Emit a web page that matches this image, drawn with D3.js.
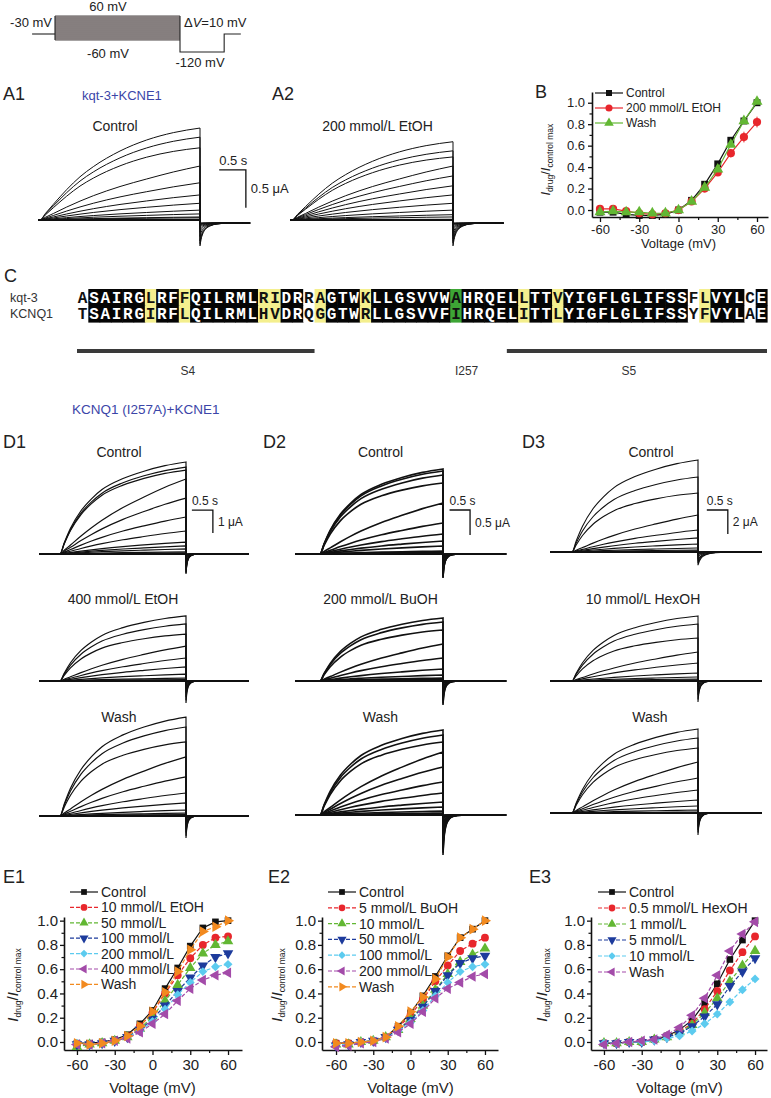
<!DOCTYPE html>
<html>
<head>
<meta charset="utf-8">
<script src="https://cdn.jsdelivr.net/npm/d3@7/dist/d3.min.js"></script>
<style>
  body { margin: 0; background: #fff; }
  svg { display: block; font-family: "Liberation Sans", Arial, sans-serif; }
</style>
</head>
<body>
<svg id="fig" width="771" height="1098"></svg>
<script>
// ---------------- data ----------------
const stepVoltages = [-60, -50, -40, -30, -20, -10, 0, 10, 20, 30, 40, 50, 60];
const holdV = -30, tailV = -120;
const protoTimes = { pre: -0.55, stepEnd: 3, tailEnd: 4.06, end: 4.46 };

// normalised activation time course (s)
const actT    = [0, 0.1, 0.25, 0.5, 0.75, 1, 1.5, 2, 2.5, 3];
const actFast = [0, 0.12, 0.28, 0.47, 0.6, 0.7, 0.82, 0.9, 0.96, 1];
const actMid  = [0, 0.07, 0.17, 0.33, 0.47, 0.58, 0.75, 0.87, 0.95, 1];
const actSlow = [0, 0.05, 0.12, 0.24, 0.35, 0.45, 0.62, 0.76, 0.89, 1];
const tailT     = [0, 0.02, 0.05, 0.1, 0.2, 0.3, 0.5, 0.8];
const tailShape = [1, 0.72, 0.48, 0.28, 0.12, 0.05, 0.01, 0];

// current at the end of each 3 s pulse (uA), largest sweep first
const ampA1  = [1.21, 1.09, 0.95, 0.71, 0.49, 0.33, 0.22, 0.13, 0.08, 0.04, 0.03, 0.01, 0];
const ampA2  = [1.03, 0.91, 0.83, 0.71, 0.58, 0.45, 0.33, 0.22, 0.13, 0.07, 0.04, 0.01, 0];
const ampD1c = [4.0, 3.78, 3.65, 3.26, 2.43, 1.61, 1.0, 0.52, 0.35, 0.22, 0.09, 0.04, 0];
const ampD1e = [2.83, 2.48, 2.04, 1.52, 1.0, 0.61, 0.3, 0.13, 0.06, 0.04, 0.02, 0.01, 0];
const ampD1w = [4.3, 3.87, 3.22, 2.57, 1.7, 1.0, 0.57, 0.26, 0.13, 0.06, 0.04, 0.01, 0];
const ampD2c = [1.7, 1.66, 1.58, 1.42, 1.02, 0.62, 0.4, 0.26, 0.16, 0.06, 0.04, 0.02, 0];
const ampD2b = [1.26, 1.18, 1.02, 0.74, 0.46, 0.24, 0.12, 0.06, 0.04, 0.02, 0.01, 0, 0];
const ampD2w = [1.7, 1.6, 1.46, 1.26, 0.96, 0.66, 0.44, 0.26, 0.16, 0.08, 0.04, 0.02, 0];
const ampD3c = [7.67, 6.25, 4.92, 3.08, 1.83, 1.17, 0.67, 0.33, 0.17, 0.08, 0.04, 0.02, 0];
const ampD3h = [5.42, 4.75, 3.58, 2.42, 1.5, 0.67, 0.33, 0.17, 0.08, 0.04, 0.02, 0.01, 0];
const ampD3w = [7.0, 6.25, 5.42, 4.25, 2.92, 1.92, 1.08, 0.58, 0.25, 0.08, 0.04, 0.02, 0];

// sequence alignment
const seqKqt3  = "ASAIRGLRFFQILRMLRIDRRAGTWKLLGSVVWAHRQELLTTVYIGFLGLIFSSFLVYLCE";
const seqKcnq1 = "TSAIRGIRFLQILRMLHVDRQGGTWRLLGSVVFIHRQELITTLYIGFLGLIFSSYFVYLAE";
const yellowCols = [7, 10, 17, 18, 22, 26, 40, 43, 56];
const whiteCols  = [1, 21, 55, 60];
const greenCols  = [34];
const segments   = [{ name: "S4", from: 1, to: 21 }, { name: "S5", from: 39, to: 61 }];

// I-V data (normalised current)
const bNames = ["Control", "200 mmol/L EtOH", "Wash"];
const bControl = [-0.02, -0.02, -0.04, -0.05, -0.05, -0.04, 0, 0.09, 0.24, 0.43, 0.65, 0.83, 1.0];
const bEtOH    = [0.01, 0.01, -0.01, -0.03, -0.04, -0.03, 0, 0.08, 0.2, 0.35, 0.53, 0.68, 0.82];
const bWash    = [-0.02, -0.01, -0.02, -0.02, -0.03, -0.03, 0, 0.08, 0.21, 0.38, 0.61, 0.83, 1.01];
const bEtOHErr = [0.01, 0.01, 0.01, 0.01, 0.01, 0.01, 0, 0.01, 0.02, 0.03, 0.04, 0.05, 0.05];

const e1Names = ["Control", "10 mmol/L EtOH", "50 mmol/L", "100 mmol/L", "200 mmol/L", "400 mmol/L", "Wash"];
const e1Control = [-0.01, -0.01, 0.0, 0.02, 0.06, 0.15, 0.26, 0.44, 0.61, 0.79, 0.94, 0.99, 1.0];
const e1Et10    = [-0.02, -0.02, -0.01, 0.01, 0.05, 0.13, 0.24, 0.40, 0.55, 0.69, 0.80, 0.86, 0.87];
const e1Et50    = [-0.04, -0.02, -0.01, 0.01, 0.04, 0.11, 0.21, 0.34, 0.47, 0.61, 0.73, 0.80, 0.83];
const e1Et100   = [-0.02, -0.02, -0.01, 0.01, 0.04, 0.10, 0.19, 0.30, 0.42, 0.53, 0.63, 0.70, 0.73];
const e1Et200   = [-0.01, -0.02, -0.01, 0.01, 0.04, 0.09, 0.17, 0.27, 0.39, 0.49, 0.58, 0.62, 0.64];
const e1Et400   = [-0.02, -0.02, -0.01, 0.01, 0.03, 0.08, 0.15, 0.23, 0.34, 0.44, 0.51, 0.55, 0.57];
const e1Wash    = [-0.01, -0.02, -0.01, 0.01, 0.05, 0.13, 0.25, 0.41, 0.58, 0.76, 0.91, 0.95, 1.0];

const e2Names = ["Control", "5 mmol/L BuOH", "10 mmol/L", "50 mmol/L", "100 mmol/L", "200 mmol/L", "Wash"];
const e2Control = [-0.01, -0.01, 0.0, 0.01, 0.04, 0.13, 0.24, 0.38, 0.54, 0.71, 0.86, 0.93, 1.0];
const e2Bu5     = [-0.01, -0.01, 0.0, 0.01, 0.04, 0.12, 0.22, 0.35, 0.50, 0.63, 0.75, 0.81, 0.86];
const e2Bu10    = [-0.02, -0.02, 0.0, 0.01, 0.04, 0.10, 0.19, 0.30, 0.43, 0.56, 0.66, 0.72, 0.77];
const e2Bu50    = [-0.03, -0.02, 0.0, 0.01, 0.04, 0.10, 0.18, 0.29, 0.42, 0.55, 0.65, 0.69, 0.71];
const e2Bu100   = [-0.02, -0.02, 0.0, 0.01, 0.03, 0.09, 0.16, 0.26, 0.38, 0.49, 0.58, 0.62, 0.64];
const e2Bu200   = [-0.04, -0.03, -0.01, 0.0, 0.03, 0.08, 0.15, 0.25, 0.36, 0.44, 0.49, 0.54, 0.56];
const e2Wash    = [-0.01, -0.01, 0.0, 0.01, 0.04, 0.13, 0.25, 0.37, 0.52, 0.70, 0.86, 0.93, 1.0];

const e3Names = ["Control", "0.5 mmol/L HexOH", "1 mmol/L", "5 mmol/L", "10 mmol/L", "Wash"];
const e3Control = [-0.01, -0.01, 0.0, 0.0, 0.02, 0.05, 0.10, 0.18, 0.32, 0.48, 0.68, 0.84, 1.0];
const e3Hex05   = [-0.01, -0.01, 0.0, 0.0, 0.02, 0.04, 0.09, 0.15, 0.27, 0.42, 0.59, 0.74, 0.87];
const e3Hex1    = [-0.01, -0.01, 0.0, 0.0, 0.02, 0.04, 0.08, 0.14, 0.24, 0.36, 0.50, 0.63, 0.75];
const e3Hex5    = [-0.01, -0.01, 0.0, 0.0, 0.02, 0.04, 0.07, 0.13, 0.21, 0.31, 0.46, 0.58, 0.69];
const e3Hex10   = [-0.01, -0.01, 0.0, 0.0, 0.01, 0.03, 0.05, 0.09, 0.15, 0.23, 0.33, 0.43, 0.52];
const e3Wash    = [-0.02, -0.01, 0.0, 0.01, 0.02, 0.06, 0.12, 0.22, 0.36, 0.55, 0.75, 0.89, 0.99];

const xTicks = [-60, -30, 0, 30, 60];
const xMinor = [-45, -15, 15, 45];
const yTicks = [0, 0.2, 0.4, 0.6, 0.8, 1.0];
const yMinor = [0.1, 0.3, 0.5, 0.7, 0.9];

// ---------------- drawing ----------------
const FONT = '"Liberation Sans", Arial, sans-serif';
const svg = d3.select("#fig");
const colors = ["#111111", "#e8262c", "#62b733", "#1d3b9c", "#5ccbef", "#a34ba9", "#f28a1f"];
const markers = [
  { type: d3.symbolSquare, rot: 0, k: 1 },
  { type: d3.symbolCircle, rot: 0, k: 1.1 },
  { type: d3.symbolTriangle, rot: 0, k: 1.1 },
  { type: d3.symbolTriangle, rot: 180, k: 1.1 },
  { type: d3.symbolSquare, rot: 45, k: 0.9 },
  { type: d3.symbolTriangle, rot: -90, k: 1.1 },
  { type: d3.symbolTriangle, rot: 90, k: 1.1 }
];

function label(x, y, s, size, opts = {}) {
  return svg.append("text")
    .attr("x", x).attr("y", y)
    .attr("text-anchor", opts.anchor || "start")
    .attr("fill", opts.fill || "#222")
    .style("font-size", size + "px")
    .style("font-style", opts.italic ? "italic" : null)
    .text(s);
}

// panel letters and headings
[["A1", 3, 100], ["A2", 272, 100], ["B", 535, 98], ["C", 4, 282],
 ["D1", 3, 448], ["D2", 263, 448], ["D3", 522, 448],
 ["E1", 3, 883], ["E2", 268, 883], ["E3", 529, 883]]
  .forEach(d => label(d[1], d[2], d[0], 18));
label(82, 100, "kqt-3+KCNE1", 13, { fill: "#3b45a8" });
label(72, 414, "KCNQ1 (I257A)+KCNE1", 13.5, { fill: "#3b45a8" });

// ---- voltage protocol ----
{
  const x = d3.scaleLinear().domain([0, protoTimes.stepEnd]).range([55, 180]);
  const v = d3.scaleLinear().domain([60, tailV]).range([16, 52]);
  const g = svg.append("g");
  g.append("rect")
    .attr("x", x(0)).attr("y", v(60))
    .attr("width", x(protoTimes.stepEnd) - x(0)).attr("height", v(-60) - v(60))
    .attr("fill", "#c4bcbc");
  g.selectAll("line").data(stepVoltages).join("line")
    .attr("x1", x(0)).attr("x2", x(protoTimes.stepEnd))
    .attr("y1", d => v(d)).attr("y2", d => v(d))
    .attr("stroke", "#3a3434").attr("stroke-width", 0.9);
  const line = d3.line().x(d => x(d[0])).y(d => v(d[1]));
  const paths = [
    [[protoTimes.pre, holdV], [0, holdV]],
    [[0, 60], [0, -60]],
    [[protoTimes.stepEnd, 60], [protoTimes.stepEnd, tailV], [protoTimes.tailEnd, tailV],
     [protoTimes.tailEnd, holdV], [protoTimes.end, holdV]]
  ];
  g.selectAll("path").data(paths).join("path")
    .attr("d", line).attr("fill", "none").attr("stroke", "#222").attr("stroke-width", 1.1);
  label(108, 11, "60 mV", 13, { anchor: "middle" });
  label(108, 58, "-60 mV", 13, { anchor: "middle" });
  label(52, 27, "-30 mV", 13, { anchor: "end" });
  label(200, 67, "-120 mV", 13, { anchor: "middle" });
  const dv = label(184, 27, "\u0394", 13);
  dv.append("tspan").style("font-style", "italic").text("V");
  dv.append("tspan").text("=10 mV");
}

// ---- current traces ----
function drawTraces(p) {
  const x = d3.scaleLinear().domain([0, 3]).range([p.xOn, p.xOff]);
  const y = d3.scaleLinear().domain([0, 1]).range([p.y0, p.y0 - p.pxUA]);
  const g = svg.append("g").attr("fill", "none").attr("stroke", "#111");
  const curve = d3.line().x(d => x(d[0])).y(d => y(d[1])).curve(d3.curveMonotoneX);
  const aMax = d3.max(p.amps);
  g.append("path")
    .attr("d", curve([[p.tL, 0], [3, 0]]))
    .attr("stroke-width", 1.8);
  p.amps.forEach((a, i) => {
    const shape = i < p.nTop ? p.top : actSlow;
    const on = [[p.tL, 0]].concat(actT.map((t, k) => [t, a * shape[k]]));
    const tl = tailT.map((t, k) => [3 + t * p.tailK, p.off - p.tail * (a / aMax) * tailShape[k]]);
    tl.push([p.tR, p.off]);
    g.append("path")
      .attr("d", curve(on) + curve(tl).replace(/^M/, "L"))
      .attr("stroke-width", p.sw);
  });
  label((p.xOn + p.xOff) / 2 + p.dx, p.ty, p.title, 14, { anchor: "middle" });
  if (p.bar) {
    const b = p.bar;
    g.append("path")
      .attr("d", d3.line()([[x(b.t - 0.5), y(b.i)], [x(b.t), y(b.i)], [x(b.t), y(b.i - b.di)]]))
      .attr("stroke-width", 1.3);
    label(x(b.t - 0.5), y(b.i) - 5, "0.5 s", b.fs);
    label(x(b.t) + 5, y(b.i - b.di / 2) + 4, b.text, b.fs);
  }
}

const tracePanels = [
  { amps: ampA1, xOn: 40, xOff: 200, tL: -0.03, tR: 3.94, y0: 220, pxUA: 76, top: actMid, nTop: 3,
    tail: 0.3, tailK: 1.0, off: -0.04, sw: 1, title: "Control", dx: -5, ty: 131,
    bar: { t: 3.86, i: 0.66, di: 0.5, text: "0.5 \u03bcA", fs: 13 } },
  { amps: ampA2, xOn: 292, xOff: 453, tL: -0.03, tR: 3.94, y0: 220, pxUA: 76, top: actMid, nTop: 3,
    tail: 0.3, tailK: 1.0, off: -0.04, sw: 1, title: "200 mmol/L EtOH", dx: 5, ty: 131 },
  { amps: ampD1c, xOn: 60, xOff: 186, tL: -0.5, tR: 4.5, y0: 554, pxUA: 23, top: actFast, nTop: 3,
    tail: 0.87, tailK: 0.5, off: 0, sw: 1.2, title: "Control", dx: -4, ty: 457,
    bar: { t: 3.64, i: 1.91, di: 1, text: "1 \u03bcA", fs: 12 } },
  { amps: ampD1e, xOn: 60, xOff: 186, tL: -0.5, tR: 4.5, y0: 681, pxUA: 23, top: actFast, nTop: 3,
    tail: 0.96, tailK: 0.5, off: 0, sw: 1.2, title: "400 mmol/L EtOH", dx: 0, ty: 604 },
  { amps: ampD1w, xOn: 60, xOff: 186, tL: -0.5, tR: 4.5, y0: 816, pxUA: 23, top: actFast, nTop: 3,
    tail: 0.96, tailK: 0.5, off: 0, sw: 1.2, title: "Wash", dx: -4, ty: 722 },
  { amps: ampD2c, xOn: 320, xOff: 443, tL: -0.61, tR: 4.54, y0: 554, pxUA: 50, top: actFast, nTop: 4,
    tail: 0.48, tailK: 0.6, off: 0, sw: 1.6, title: "Control", dx: -1, ty: 457,
    bar: { t: 3.66, i: 0.88, di: 0.5, text: "0.5 \u03bcA", fs: 12 } },
  { amps: ampD2b, xOn: 320, xOff: 443, tL: -0.61, tR: 4.54, y0: 681, pxUA: 50, top: actFast, nTop: 3,
    tail: 0.48, tailK: 0.6, off: 0, sw: 1.6, title: "200 mmol/L BuOH", dx: -1, ty: 604 },
  { amps: ampD2w, xOn: 320, xOff: 443, tL: -0.61, tR: 4.54, y0: 815, pxUA: 50, top: actFast, nTop: 3,
    tail: 0.8, tailK: 0.7, off: 0, sw: 1.6, title: "Wash", dx: -1, ty: 722 },
  { amps: ampD3c, xOn: 572, xOff: 698, tL: -0.52, tR: 4.52, y0: 552, pxUA: 12, top: actFast, nTop: 3,
    tail: 1.1, tailK: 1.4, off: 0, sw: 1.1, title: "Control", dx: 16, ty: 457,
    bar: { t: 3.71, i: 3.5, di: 2, text: "2 \u03bcA", fs: 12 } },
  { amps: ampD3h, xOn: 572, xOff: 698, tL: -0.52, tR: 4.52, y0: 681, pxUA: 12, top: actFast, nTop: 3,
    tail: 1.75, tailK: 0.6, off: 0, sw: 1.1, title: "10 mmol/L HexOH", dx: 8, ty: 604 },
  { amps: ampD3w, xOn: 572, xOff: 698, tL: -0.52, tR: 4.52, y0: 813, pxUA: 12, top: actFast, nTop: 3,
    tail: 1.83, tailK: 0.6, off: 0, sw: 1.1, title: "Wash", dx: 15, ty: 722 }
];
tracePanels.forEach(drawTraces);

// ---- sequence alignment ----
{
  const cols = d3.range(1, seqKqt3.length + 1);
  const col = d3.scaleBand().domain(cols).range([77, 767]);
  const rows = [{ name: "kqt-3", seq: seqKqt3 }, { name: "KCNQ1", seq: seqKcnq1 }];
  const row = d3.scaleBand().domain(rows.map(r => r.name)).range([289, 322]);
  const kind = c => greenCols.includes(c) ? "g" : yellowCols.includes(c) ? "y" : whiteCols.includes(c) ? "w" : "b";
  const fill = { g: "#3da535", y: "#f4ef8e", w: "#ffffff", b: "#050505" };
  const g = svg.append("g");
  rows.forEach(r => {
    g.append("g").selectAll("rect").data(cols).join("rect")
      .attr("x", c => col(c)).attr("y", row(r.name))
      .attr("width", col.bandwidth() + 0.6).attr("height", row.bandwidth() + 0.6)
      .attr("fill", c => fill[kind(c)]);
    g.append("g").selectAll("text").data(cols).join("text")
      .attr("x", c => col(c) + col.bandwidth() / 2)
      .attr("y", row(r.name) + row.bandwidth() / 2 + 5.5)
      .attr("text-anchor", "middle")
      .attr("fill", c => kind(c) === "b" ? "#fff" : "#111")
      .style("font-family", '"Liberation Mono", "DejaVu Sans Mono", monospace')
      .style("font-weight", "bold")
      .style("font-size", "16px")
      .text(c => r.seq[c - 1]);
    label(10, row(r.name) + row.bandwidth() / 2 + 4.5, r.name, 12.5, { fill: "#333" });
  });
  segments.forEach(s => {
    const x0 = col(s.from), x1 = col(s.to) + col.bandwidth();
    g.append("rect").attr("x", x0).attr("y", 349).attr("width", x1 - x0).attr("height", 4).attr("fill", "#3a3a3a");
    label((x0 + x1) / 2 - 8, 375, s.name, 12, { anchor: "middle", fill: "#333" });
  });
  label(col(greenCols[0]) + col.bandwidth() + 5, 375, "I257", 12, { anchor: "middle", fill: "#333" });
}

// ---- I-V plots ----
function drawIV(c) {
  const x = d3.scaleLinear().domain(c.xDom).range(c.xRange);
  const y = d3.scaleLinear().domain(c.yDom).range(c.yRange);
  const g = svg.append("g");
  const styleAxis = (a, fs) => {
    a.attr("font-family", FONT).attr("font-size", fs);
    a.select(".domain").attr("stroke", "#111").attr("stroke-width", 1.6);
    a.selectAll(".tick line").attr("stroke", "#111").attr("stroke-width", 1.3);
    a.selectAll(".tick text").attr("fill", "#222");
  };
  const gx = g.append("g").attr("transform", `translate(0,${c.yRange[0]})`)
    .call(d3.axisBottom(x).tickValues(xTicks).tickSize(5).tickSizeOuter(0).tickPadding(c.xPad).tickFormat(d => String(d)));
  styleAxis(gx, c.fs);
  g.append("g").attr("transform", `translate(0,${c.yRange[0]})`)
    .call(d3.axisBottom(x).tickValues(xMinor).tickSize(3).tickFormat(""))
    .call(a => { a.select(".domain").remove(); a.selectAll("line").attr("stroke", "#111").attr("stroke-width", 1.2); });
  const gy = g.append("g").attr("transform", `translate(${c.xRange[0]},0)`)
    .call(d3.axisLeft(y).tickValues(yTicks).tickSize(4).tickSizeOuter(0).tickPadding(c.yPad).tickFormat(d3.format(".1f")));
  styleAxis(gy, c.fs);
  g.append("g").attr("transform", `translate(${c.xRange[0]},0)`)
    .call(d3.axisLeft(y).tickValues(yMinor).tickSize(2.5).tickFormat(""))
    .call(a => { a.select(".domain").remove(); a.selectAll("line").attr("stroke", "#111").attr("stroke-width", 1.2); });

  // axis titles
  label(x(0), c.yRange[0] + c.xTitleDy, "Voltage (mV)", c.fs, { anchor: "middle" });
  const yl = g.append("text")
    .attr("transform", `translate(${c.yLabelX},${y(0.47)}) rotate(-90)`)
    .attr("text-anchor", "middle").attr("fill", "#222")
    .style("font-size", c.fs + "px");
  yl.append("tspan").style("font-style", "italic").text("I");
  yl.append("tspan").attr("dy", 3).style("font-size", "8.5px").text("drug");
  yl.append("tspan").attr("dy", -3).text("/");
  yl.append("tspan").style("font-style", "italic").text("I");
  yl.append("tspan").attr("dy", 3).style("font-size", "8.5px").text("control max");

  const sym = (i, size) => d3.symbol().type(markers[i].type).size(size * markers[i].k)();
  const line = d3.line().x((d, k) => x(stepVoltages[k])).y(d => y(d));

  c.series.forEach((s, i) => {
    const sg = g.append("g");
    sg.append("path").attr("d", line(s))
      .attr("fill", "none").attr("stroke", colors[i]).attr("stroke-width", 1.2)
      .attr("stroke-dasharray", c.dashed && i > 0 ? "4,2" : null);
    if (c.errors && c.errors[i]) {
      sg.selectAll("line").data(s).join("line")
        .attr("x1", (d, k) => x(stepVoltages[k])).attr("x2", (d, k) => x(stepVoltages[k]))
        .attr("y1", (d, k) => y(d - c.errors[i][k])).attr("y2", (d, k) => y(d + c.errors[i][k]))
        .attr("stroke", colors[i]).attr("stroke-width", 1);
    }
    sg.selectAll(".m").data(s).join("path").attr("class", "m")
      .attr("d", sym(i, c.msize))
      .attr("transform", (d, k) => `translate(${x(stepVoltages[k])},${y(d)}) rotate(${markers[i].rot})`)
      .attr("fill", colors[i]);
  });

  // legend
  c.names.forEach((n, i) => {
    const ly = c.legY + i * c.legDy;
    g.append("line").attr("x1", c.legX).attr("x2", c.legX + 28).attr("y1", ly).attr("y2", ly)
      .attr("stroke", colors[i]).attr("stroke-width", 1.2)
      .attr("stroke-dasharray", c.dashed && i > 0 ? "4,2" : null);
    g.append("path").attr("d", sym(i, c.msize * 0.75))
      .attr("transform", `translate(${c.legX + 14},${ly}) rotate(${markers[i].rot})`)
      .attr("fill", colors[i]);
    label(c.legX + 31, ly + c.legFs * 0.36, n, c.legFs);
  });
}

const yDomE = [-0.066, 1.03], yRangeE = [1050, 917];
const ivPanels = [
  { series: [bControl, bEtOH, bWash], names: bNames, errors: [null, bEtOHErr, null],
    xDom: [-66.1, 68.4], xRange: [592, 768], yDom: [-0.065, 1.1], yRange: [217, 92],
    fs: 13, xPad: 3, yPad: 3, xTitleDy: 31, yLabelX: 550, msize: 48, dashed: false,
    legX: 595, legY: 93, legDy: 15, legFs: 12 },
  { series: [e1Control, e1Et10, e1Et50, e1Et100, e1Et200, e1Et400, e1Wash], names: e1Names,
    xDom: [-70.3, 71.1], xRange: [64, 242], yDom: yDomE, yRange: yRangeE,
    fs: 15, xPad: 4, yPad: 2, xTitleDy: 43, yLabelX: 18, msize: 44, dashed: true,
    legX: 70, legY: 892, legDy: 15.4, legFs: 14 },
  { series: [e2Control, e2Bu5, e2Bu10, e2Bu50, e2Bu100, e2Bu200, e2Wash], names: e2Names,
    xDom: [-71.3, 70.5], xRange: [322, 498], yDom: yDomE, yRange: yRangeE,
    fs: 15, xPad: 4, yPad: 2, xTitleDy: 43, yLabelX: 282, msize: 44, dashed: true,
    legX: 328, legY: 892, legDy: 15.8, legFs: 14 },
  { series: [e3Control, e3Hex05, e3Hex1, e3Hex5, e3Hex10, e3Wash], names: e3Names,
    xDom: [-70.3, 69.5], xRange: [591, 767], yDom: yDomE, yRange: yRangeE,
    fs: 15, xPad: 4, yPad: 2, xTitleDy: 43, yLabelX: 547, msize: 44, dashed: true,
    legX: 598, legY: 892, legDy: 16, legFs: 14 }
];
ivPanels.forEach(drawIV);
</script>
</body>
</html>
